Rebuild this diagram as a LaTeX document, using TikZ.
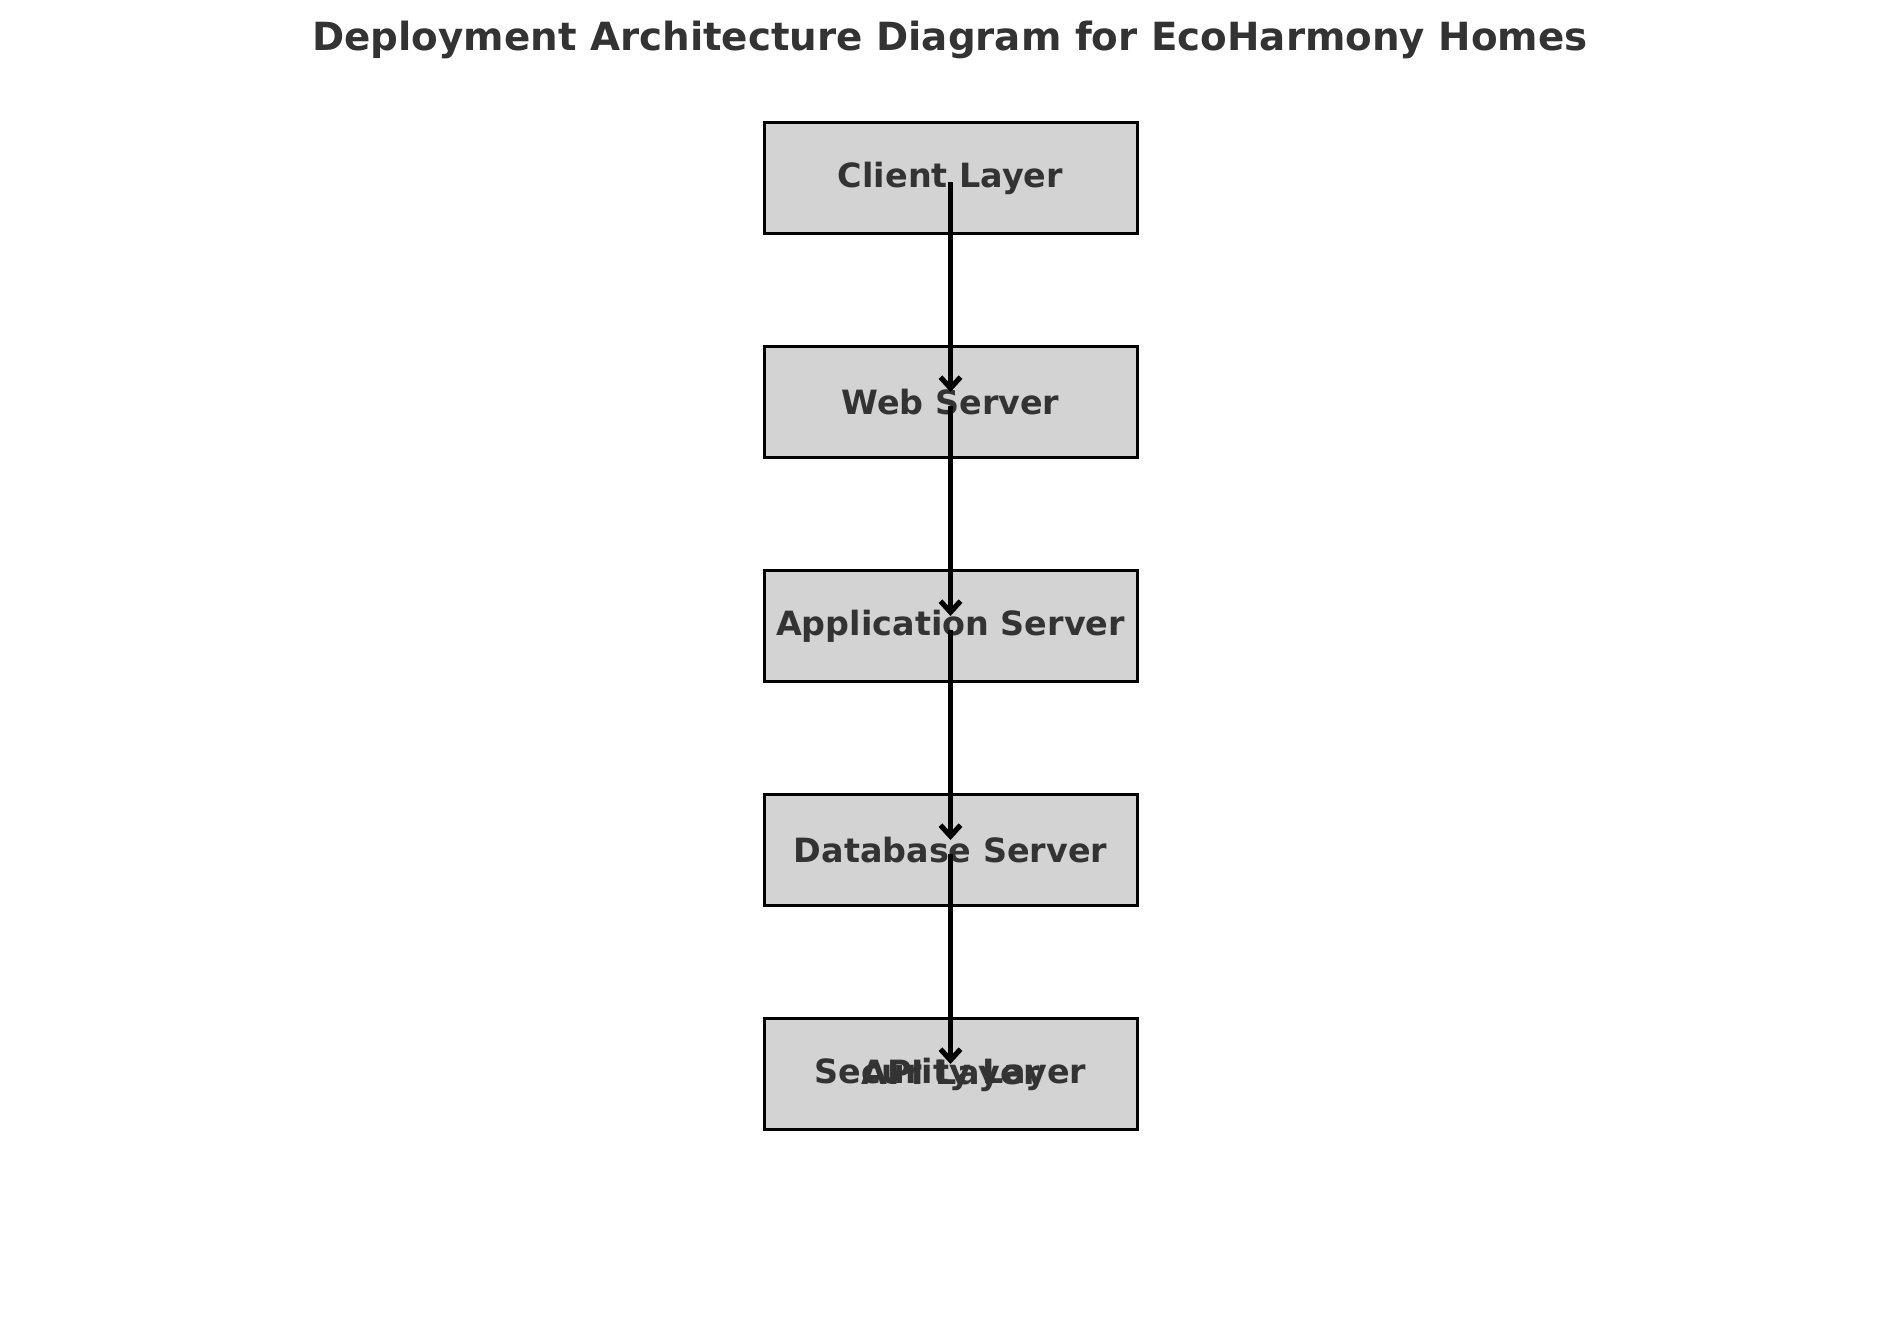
\documentclass[tikz,border=0pt]{standalone}
\usepackage{fontspec}
\setmainfont{DejaVu Sans}
\usetikzlibrary{arrows.meta}
\definecolor{txt}{HTML}{333333}
\definecolor{boxfill}{HTML}{D3D3D3}
\tikzset{
  layerbox/.style={draw=black, line width=1.5pt, fill=boxfill, minimum width=186.5pt, minimum height=55.75pt, inner sep=0pt, text=txt, font=\bfseries\fontsize{16.7}{19}\selectfont},
  overlabel/.style={inner sep=0pt, text=txt, font=\bfseries\fontsize{16.7}{19}\selectfont},
  flow/.style={draw=black, line width=2.6pt, -{Straight Barb[length=5.5pt,width=10pt]}},
}
\begin{document}
\begin{tikzpicture}[x=0.5pt,y=-0.5pt]
\useasboundingbox (0,0) rectangle (1900,1318);
\node[text=txt, font=\bfseries\fontsize{19.4}{23}\selectfont] (title) at (950,40) {Deployment Architecture Diagram for EcoHarmony Homes};
\node[layerbox] (client) at (950.5,178) {\raisebox{-0.8pt}{Client Layer}};
\node[layerbox] (web) at (950.5,402) {\raisebox{-0.8pt}{Web Server}};
\node[layerbox] (app) at (950.5,626) {\raisebox{-0.8pt}{Application Server}};
\node[layerbox] (db) at (950.5,850) {\raisebox{-0.8pt}{Database Server}};
\node[layerbox] (sec) at (950.5,1074) {\raisebox{-0.8pt}{Security Layer}};
\node[overlabel] (api) at (950.5,1075.6) {API Layer};
\draw[flow] ([yshift=-2pt]client.center) -- ([yshift=5pt]web.center);
\draw[flow] ([yshift=-2pt]web.center) -- ([yshift=5pt]app.center);
\draw[flow] ([yshift=-2pt]app.center) -- ([yshift=5pt]db.center);
\draw[flow] ([yshift=-2pt]db.center) -- ([yshift=5pt]sec.center);
\end{tikzpicture}
\end{document}
